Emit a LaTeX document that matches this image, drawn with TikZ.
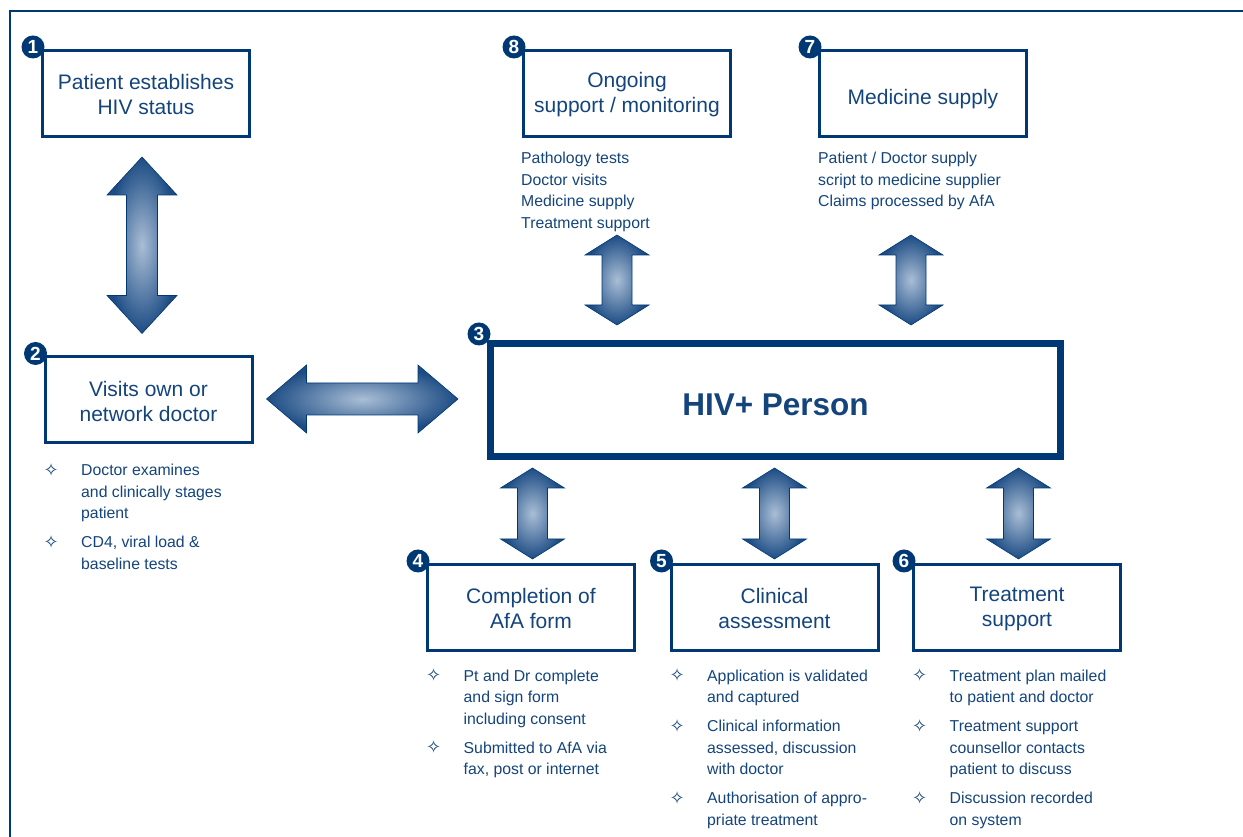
\documentclass[tikz,border=0pt]{standalone}
\usepackage{fontspec}
\setmainfont{Liberation Sans}
\newfontfamily\symfont{DejaVu Sans}
\usetikzlibrary{calc}

\definecolor{navy}{RGB}{0,56,116}
\definecolor{textblue}{RGB}{20,68,124}
\definecolor{arrowdark}{RGB}{28,76,132}
\definecolor{arrowlight}{RGB}{170,190,214}

\newcommand{\boxfont}{\fontsize{21}{25}\selectfont}
\newcommand{\listfont}{\fontsize{15.8}{21.5}\selectfont}
\newcommand{\bul}{\makebox[37.5pt][l]{\raisebox{-0.5pt}{\symfont\fontsize{18}{18}\selectfont ✧}}}

% vertical double arrow: top tip, bottom tip, head half, shaft half, head length
\newcommand{\varrow}[5]{%
  \path[bigarrow] let \p1=#1, \p2=#2 in
    (\x1,\y1) -- (\x1+#3pt,\y1-#5pt) -- (\x1+#4pt,\y1-#5pt) -- (\x1+#4pt,\y2+#5pt)
    -- (\x1+#3pt,\y2+#5pt) -- (\x1,\y2) -- (\x1-#3pt,\y2+#5pt) -- (\x1-#4pt,\y2+#5pt)
    -- (\x1-#4pt,\y1-#5pt) -- (\x1-#3pt,\y1-#5pt) -- cycle;}
% horizontal double arrow: left tip, right tip, head half, shaft half, head length
\newcommand{\harrow}[5]{%
  \path[bigarrow] let \p1=#1, \p2=#2 in
    (\x1,\y1) -- (\x1+#5pt,\y1+#3pt) -- (\x1+#5pt,\y1+#4pt) -- (\x2-#5pt,\y1+#4pt)
    -- (\x2-#5pt,\y1+#3pt) -- (\x2,\y1) -- (\x2-#5pt,\y1-#3pt) -- (\x2-#5pt,\y1-#4pt)
    -- (\x1+#5pt,\y1-#4pt) -- (\x1+#5pt,\y1-#3pt) -- cycle;}

\tikzset{
  stepbox/.style={draw=navy, line width=3pt, minimum width=207pt, minimum height=86pt,
    align=center, text=textblue, font=\boxfont},
  badge/.style={circle, fill=navy, text=white, inner sep=0pt, minimum size=23pt,
    font=\bfseries\fontsize{19}{19}\selectfont},
  steplist/.style={anchor=north west, inner sep=0pt, align=left, text=textblue, font=\listfont},
  bigarrow/.style={draw=navy, line width=0.6pt, inner color=arrowlight, outer color=arrowdark},
}

\begin{document}
\begin{tikzpicture}[x=1pt,y=1pt]
\useasboundingbox (0,0) rectangle (1243,837);
\clip (0,0) rectangle (1243,837);
\draw[navy, line width=2pt] (10,-20) |- (1260,826);

% boxes
\node[stepbox] (b1) at (146,743.5) {\strut Patient establishes\\HIV status};
\node[stepbox] (b2) at (148.5,437) {\strut Visits own or\\network doctor};
\node[stepbox] (b8) at (627,743.5) {\strut Ongoing\\support / monitoring};
\node[stepbox, text height=22pt, text depth=0pt] (b7) at (923,743.5) {Medicine supply};
\node[draw=navy, line width=7pt, minimum width=570pt, minimum height=113pt, text=textblue,
  text height=31pt, text depth=0pt, font=\bfseries\fontsize{31.5}{36}\selectfont] (b3)
  at (775.5,437) {HIV+ Person};
\node[stepbox] (b4) at (531,229.5) {\strut Completion of\\AfA form};
\node[stepbox] (b5) at (774.5,229.5) {\strut Clinical\\assessment};
\node[stepbox] (b6) at (1017,229.5) {\strut Treatment\\support};

% numbers
\node[badge] (n1) at ($(b1.north west)+(-8,2)$) {1};
\node[badge] (n2) at ($(b2.north west)+(-8,2)$) {2};
\node[badge] (n3) at ($(b3.north west)+(-8,6)$) {3};
\node[badge] (n4) at ($(b4.north west)+(-8,2)$) {4};
\node[badge] (n5) at ($(b5.north west)+(-8,2)$) {5};
\node[badge] (n6) at ($(b6.north west)+(-8,2)$) {6};
\node[badge] (n7) at ($(b7.north west)+(-8,2)$) {7};
\node[badge] (n8) at ($(b8.north west)+(-8,2)$) {8};

% lists
\node[steplist] (l8) at ($(b8.south west)+(-1,-14)$)
  {Pathology tests\\Doctor visits\\Medicine supply\\Treatment support};
\node[steplist] (l7) at ($(b7.south west)+(0,-14)$)
  {Patient / Doctor supply\\script to medicine supplier\\Claims processed by AfA};
\node[steplist] (l2) at ($(b2.south west)+(0,-16)$) {\begin{tabular}{@{}l@{}l@{}}
  \bul & Doctor examines\\ & and clinically stages\\ & patient\\[7.5pt]
  \bul & CD4, viral load \&\\ & baseline tests
  \end{tabular}};
\node[steplist] (l4) at ($(b4.south west)+(0,-14)$) {\begin{tabular}{@{}l@{}l@{}}
  \bul & Pt and Dr complete\\ & and sign form\\ & including consent\\[7.5pt]
  \bul & Submitted to AfA via\\ & fax, post or internet
  \end{tabular}};
\node[steplist] (l5) at ($(b5.south west)+(0,-14)$) {\begin{tabular}{@{}l@{}l@{}}
  \bul & Application is validated\\ & and captured\\[7.5pt]
  \bul & Clinical information\\ & assessed, discussion\\ & with doctor\\[7.5pt]
  \bul & Authorisation of appro-\\ & priate treatment
  \end{tabular}};
\node[steplist] (l6) at ($(b6.south west)+(0,-14)$) {\begin{tabular}{@{}l@{}l@{}}
  \bul & Treatment plan mailed\\ & to patient and doctor\\[7.5pt]
  \bul & Treatment support\\ & counsellor contacts\\ & patient to discuss\\[7.5pt]
  \bul & Discussion recorded\\ & on system
  \end{tabular}};

% arrows
\varrow{($(b1.south)+(-4,-19)$)}{($(b2.north)+(0,22)$)}{35}{15.5}{38}
\harrow{($(b2.east)+(13,1)$)}{($(b3.west)+(-29,0)$)}{34}{16}{40}
\varrow{($(b8.south)+(-10,-97)$)}{($(b3.north)+(0,15)$)}{32}{15}{20}
\varrow{($(b7.south)+(-12,-97)$)}{($(b3.north)+(0,15)$)}{32}{15}{20}
\varrow{($(b3.south)+(-243,-8)$)}{($(b4.north)+(0,4)$)}{32}{15}{20}
\varrow{($(b3.south)+(-1,-8)$)}{($(b5.north)+(0,4)$)}{32}{15}{20}
\varrow{($(b3.south)+(243,-8)$)}{($(b6.north)+(0,4)$)}{32}{15}{20}
\end{tikzpicture}
\end{document}
